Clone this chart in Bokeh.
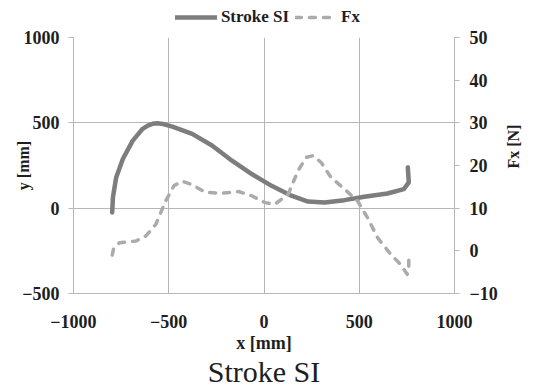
import math
from bokeh.plotting import figure
from bokeh.layouts import column, row
from bokeh.models import (Range1d, LinearAxis, FixedTicker, Legend, LegendItem, Title, Label)
from bokeh.embed import file_html
from bokeh.resources import INLINE

# ---- data ----
stroke_x = [-797, -793, -776, -741, -689, -637, -610, -585, -560, -530, -481, -377, -273, -168,
            -64, 40, 144, 231, 318, 422, 526, 648, 734, 760, 755]
stroke_y = [-25, 63, 180, 288, 396, 465, 484, 494, 497, 493, 478, 435, 367, 278,
            200, 131, 73, 39, 33, 47, 67, 86, 112, 151, 239]

fx_x = [-797, -790, -759, -672, -620, -568, -516, -472, -429, -377, -307, -220, -134,
        -64, 5, 57, 127, 179, 222, 257, 300, 352, 422, 491, 543, 596, 665, 717, 752, 760, 760]
fx_y = [-1.0, 0.4, 1.9, 2.3, 3.5, 6.2, 11.7, 15.3, 16.3, 15.5, 13.7, 13.5, 13.9,
        12.9, 11.3, 10.9, 13.3, 18.8, 21.9, 22.3, 20.7, 17.2, 14.5, 11.7, 7.8, 3.1, -0.8, -3.2, -5.5, -4.0, -1.6]

x_ticks = [-1000, -500, 0, 500, 1000]
y_ticks = [-500, 0, 500, 1000]
fx_ticks = [-10, 0, 10, 20, 30, 40, 50]

series_names = ["Stroke SI", "Fx"]
title_text = "Stroke SI"
x_label = "x [mm]"
y_label = "y [mm]"
fx_label = "Fx [N]"

FONT = "Liberation Serif"
TXT = "#1e1e1e"
GRID = "#b6b6b6"
SOLID = dict(line_color="#7d7d7d", line_width=4.5, line_join="round", line_cap="round")
DASH = dict(line_color="#ababab", line_width=3.5, line_dash="6 8", line_join="round", line_cap="round")

# ---------- main chart ----------
p = figure(width=500, height=359, output_backend="svg", toolbar_location=None,
           x_range=Range1d(-1000, 1000), y_range=Range1d(-500, 1000),
           min_border_left=73, min_border_right=42, min_border_top=10, min_border_bottom=93)
p.extra_y_ranges = {"fx": Range1d(-10, 50)}
p.outline_line_color = None
p.background_fill_color = "white"
p.border_fill_color = "white"

def style_axis(ax):
    ax.major_label_text_font = FONT
    ax.major_label_text_font_style = "bold"
    ax.major_label_text_font_size = "18px"
    ax.major_label_text_color = TXT
    ax.axis_line_color = GRID
    ax.major_tick_line_color = GRID
    ax.minor_tick_line_color = None
    ax.major_tick_in = 0
    ax.axis_label_text_font = FONT
    ax.axis_label_text_font_style = "bold"
    ax.axis_label_text_color = TXT

xa = p.xaxis[0]
style_axis(xa)
xa.ticker = FixedTicker(ticks=x_ticks)
xa.major_tick_out = 0
xa.major_label_standoff = 21
xa.axis_label = x_label
xa.axis_label_text_font_size = "18px"
xa.axis_label_standoff = 2

ya = p.yaxis[0]
style_axis(ya)
ya.ticker = FixedTicker(ticks=y_ticks)
ya.major_tick_out = 5
ya.major_label_standoff = 9
ya.axis_label = y_label
ya.axis_label_text_font_size = "16px"
ya.axis_label_standoff = -13

rax = LinearAxis(y_range_name="fx", ticker=FixedTicker(ticks=fx_ticks))
style_axis(rax)
rax.major_tick_out = 5
rax.major_label_standoff = 10
p.add_layout(rax, "right")

p.xgrid.ticker = FixedTicker(ticks=x_ticks)
p.ygrid.ticker = FixedTicker(ticks=y_ticks)
p.grid.grid_line_color = GRID
p.grid.grid_line_width = 1

p.line(stroke_x, stroke_y, **SOLID)
p.line(fx_x, fx_y, y_range_name="fx", **DASH)

p.add_layout(Title(text=title_text, align="center", text_font=FONT,
                   text_font_size="30px", text_font_style="normal",
                   text_color=TXT, standoff=-6), "below")

# ---------- right strip holding the secondary-axis title (reads bottom to top) ----------
rf = figure(width=36, height=359, output_backend="svg", toolbar_location=None,
            x_range=Range1d(500, 536), y_range=Range1d(386, 27),
            x_axis_location=None, y_axis_location=None, min_border=0)
rf.outline_line_color = None
rf.grid.visible = False
rf.add_layout(Label(x=513, y=180, text=fx_label, angle=math.pi / 2,
                    text_align="center", text_baseline="middle",
                    text_font=FONT, text_font_size="16px", text_font_style="bold",
                    text_color=TXT))

# ---------- legend strip above the chart ----------
lf = figure(width=536, height=27, output_backend="svg", toolbar_location=None,
            x_range=Range1d(0, 1), y_range=Range1d(0, 1),
            x_axis_location=None, y_axis_location=None, min_border=0)
lf.outline_line_color = None
lf.grid.visible = False
# legend-only renderers: the single point lies outside this strip's ranges, so nothing is drawn
l1 = lf.line(x=stroke_x[:1], y=stroke_y[:1], **SOLID)
l2 = lf.line(x=fx_x[:1], y=fx_y[:1], **DASH)
legend = Legend(items=[LegendItem(label=series_names[0], renderers=[l1], index=0),
                       LegendItem(label=series_names[1], renderers=[l2], index=0)],
                location="bottom_center", orientation="horizontal",
                glyph_width=42, glyph_height=18, label_height=18, label_standoff=4,
                spacing=6, padding=0, margin=0, background_fill_alpha=0,
                border_line_color=None, label_text_font=FONT,
                label_text_font_style="bold", label_text_font_size="17px",
                label_text_color=TXT)
lf.add_layout(legend)

layout = column(lf, row(p, rf, spacing=0), spacing=0)
open("out.html", "w").write(file_html(layout, INLINE))
